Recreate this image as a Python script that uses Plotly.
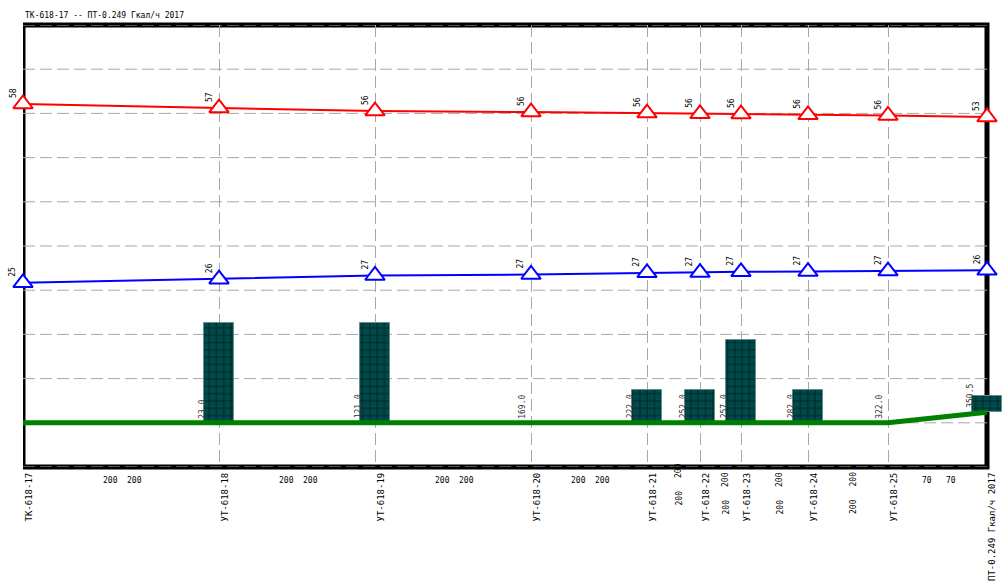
import plotly.graph_objects as go

# Nodes along the heating main
node_names = ["ТК-618-17", "УТ-618-18", "УТ-618-19", "УТ-618-20", "УТ-618-21",
              "УТ-618-22", "УТ-618-23", "УТ-618-24", "УТ-618-25", "ПТ-0.249 Гкал/ч 2017"]
station = [0, 196, 352, 508, 624, 677, 718, 785, 865, 964]
ground = [0, 0, 0, 0, 0, 0, 0, 0, 0, 1.9]
supply_head = [57.7, 56.96, 56.42, 56.24, 56.05, 55.93, 55.87, 55.75, 55.62, 55.35]
return_head = [25.34, 26.0, 26.66, 26.84, 27.15, 27.2, 27.33, 27.38, 27.46, 27.6]
building_height = [0, 18, 18, 0, 6, 6, 15, 6, 0, 3]
chainage = ["", "23.0", "121.0", "169.0", "222.0", "252.0", "257.0", "282.0", "322.0", "350.5"]

# Pipe sections between consecutive nodes (supply / return)
section_dn_supply = [200, 200, 200, 200, 200, 200, 200, 200, 70]
section_dn_return = [200, 200, 200, 200, 200, 200, 200, 200, 70]

# Elevation grid levels, m
grid_levels = [-8, 0, 8, 16, 24, 32, 40, 48, 56, 64, 72]

title_text = "ТК-618-17 -- ПТ-0.249 Гкал/ч 2017"

MONO = "DejaVu Sans Mono"
BAR_W = 29.5
GRID = "#a8a8a8"
DASH = "12px,5px"
x_end = station[-1]

fig = go.Figure()

# ground profile
fig.add_trace(go.Scatter(x=station, y=ground, mode="lines",
                         line=dict(color="#008000", width=5), cliponaxis=False,
                         hoverinfo="skip"))

# buildings
bx = [s for s, h in zip(station, building_height) if h > 0]
bh = [h for h in building_height if h > 0]
bb = [g for g, h in zip(ground, building_height) if h > 0]
fig.add_trace(go.Bar(x=bx, y=bh, base=bb, width=BAR_W, cliponaxis=False,
                     marker=dict(color="#004a4a",
                                 line=dict(color="#5f9090", width=1),
                                 pattern=dict(shape="+", fgcolor="#000000",
                                              bgcolor="#004a4a", size=7.3,
                                              solidity=0.25)),
                     hoverinfo="skip"))

# supply and return piezometric lines
for head, col in ((supply_head, "#ff0000"), (return_head, "#0000ff")):
    fig.add_trace(go.Scatter(x=station, y=head, mode="lines+markers",
                             line=dict(color=col, width=2),
                             marker=dict(symbol="triangle-up", size=17,
                                         color="white",
                                         line=dict(color=col, width=2)),
                             cliponaxis=False, hoverinfo="skip"))

ann = []
small = dict(family=MONO, size=8, color="#000000")

# pressure labels (head above ground)
for head in (supply_head, return_head):
    for s, h, g in zip(station, head, ground):
        ann.append(dict(x=s, y=h, xref="x", yref="y", text=f"{round(h - g):d}",
                        textangle=-90, showarrow=False, xanchor="center",
                        yanchor="bottom", xshift=-10, yshift=4, font=small))

# chainage labels at ground level
for s, g, h, t in zip(station, ground, building_height, chainage):
    if not t:
        continue
    ann.append(dict(x=s, y=g, xref="x", yref="y", text=t, textangle=-90,
                    showarrow=False, xanchor="center", yanchor="bottom",
                    xshift=-16.5 if h > 0 else -8, yshift=2,
                    font=dict(family=MONO, size=8, color="#333333")))

# node names under the frame
for s, name in zip(station, node_names):
    ann.append(dict(x=s, y=0, xref="x", yref="paper", text=name, textangle=-90,
                    showarrow=False, xanchor="center", yanchor="top",
                    xshift=5, yshift=-4, font=dict(family=MONO, size=9, color="#000000")))

# pipe section labels
prev_horizontal = True
for i, (a, b) in enumerate(zip(station[:-1], station[1:])):
    mid = (a + b) / 2
    sup, ret = str(section_dn_supply[i]), str(section_dn_return[i])
    if b - a > 90:
        for txt, dx in ((sup, -12), (ret, 12)):
            ann.append(dict(x=mid, y=0, xref="x", yref="paper", text=txt,
                            showarrow=False, xanchor="center", yanchor="middle",
                            xshift=dx + 1.5, yshift=-13, font=small))
        prev_horizontal = True
    else:
        lift = 9 if prev_horizontal else 0
        for txt, dy in ((sup, -12.5), (ret, -40)):
            ann.append(dict(x=mid, y=0, xref="x", yref="paper", text=txt,
                            textangle=-90, showarrow=False, xanchor="center",
                            yanchor="middle", xshift=5, yshift=dy + lift, font=small))
        prev_horizontal = False

# title
ann.append(dict(x=0, y=1, xref="paper", yref="paper", text=title_text,
                showarrow=False, xanchor="left", yanchor="middle", yshift=10,
                font=dict(family=MONO, size=8, color="#000000")))

# frame, then horizontal dashed grid on top of it
shapes = [dict(type="rect", xref="x", yref="paper", x0=0, x1=x_end, y0=0, y1=1,
               line=dict(color="black", width=5), layer="below")]
for lv in grid_levels:
    shapes.append(dict(type="line", xref="x", yref="y", x0=0, x1=x_end, y0=lv, y1=lv,
                       line=dict(color=GRID, width=1, dash=DASH), layer="below"))

fig.update_layout(
    width=1006, height=583,
    margin=dict(l=23, r=4, t=25, b=116),
    paper_bgcolor="white", plot_bgcolor="rgba(0,0,0,0)",
    showlegend=False, hovermode=False, bargap=0,
    annotations=ann, shapes=shapes,
    # vertical grid only at intermediate nodes; the ends coincide with the frame
    xaxis=dict(range=[0, x_end + 15], tickvals=station[1:-1], showticklabels=False,
               ticks="", showgrid=True, gridcolor=GRID, gridwidth=1, griddash=DASH,
               zeroline=False, showline=False, fixedrange=True),
    yaxis=dict(range=[grid_levels[0], grid_levels[-1]], showticklabels=False, ticks="",
               showgrid=False, zeroline=False, showline=False, fixedrange=True),
)

fig.write_html("out.html")
